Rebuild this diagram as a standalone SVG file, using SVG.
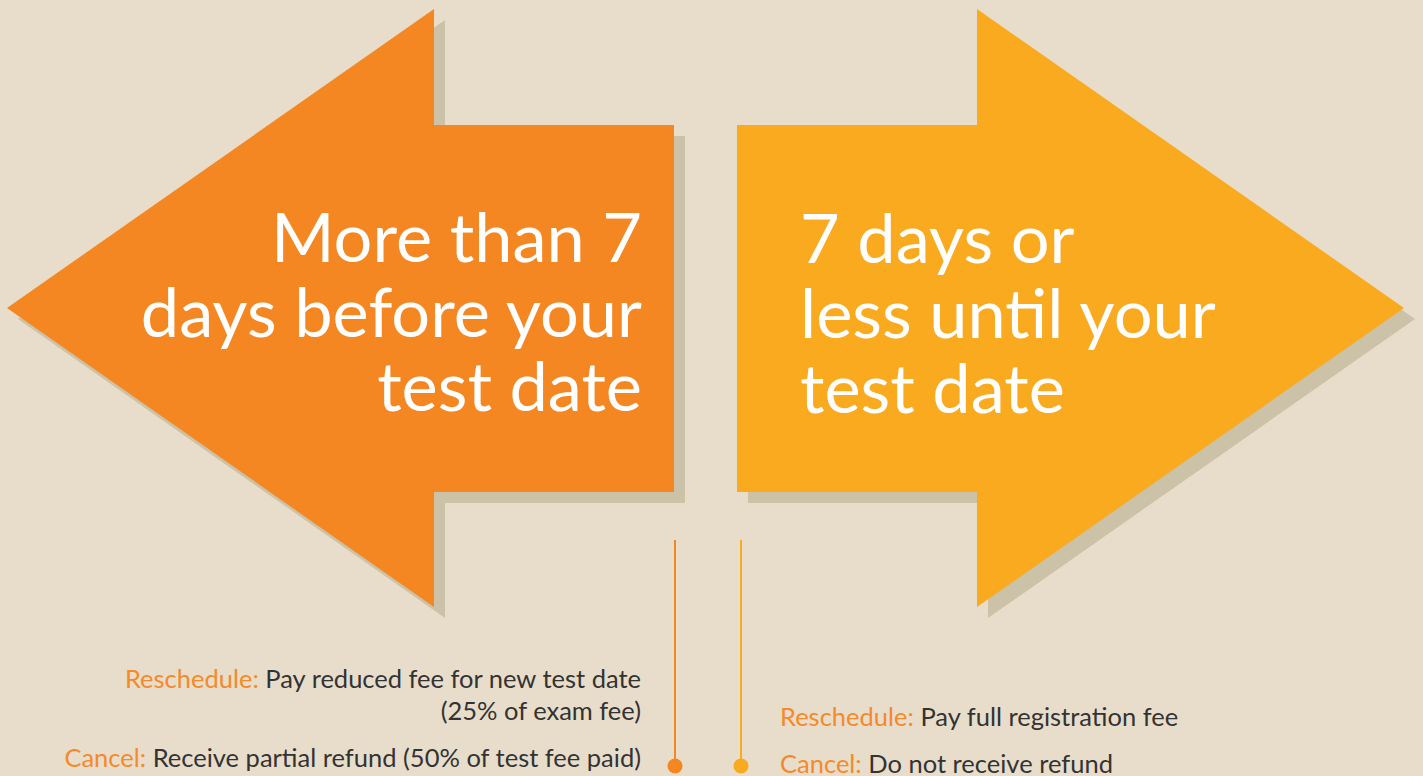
<svg xmlns="http://www.w3.org/2000/svg" width="1423" height="776" viewBox="0 0 1423 776">
<style>
.big{font-family:Lato,"Open Sans",sans-serif;font-size:68.5px;fill:#ffffff}
.small{font-family:Lato,"Open Sans",sans-serif;font-size:25.5px;fill:#333333}
.lab{fill:#F58A2A}
.shadow{fill:#CBC2A8}
</style>
<rect width="1423" height="776" fill="#E8DDCA"/>
<g id="arrow-left">
<polygon class="shadow" points="18,319 445,20 445,136 685,136 685,503 445,503 445,618"/>
<polygon fill="#F58723" points="7,308 434,9 434,125 674,125 674,492 434,492 434,607"/>
<text class="big" text-anchor="end" x="642" y="262">More than 7</text>
<text class="big" text-anchor="end" x="642" y="337">days before your</text>
<text class="big" text-anchor="end" x="642" y="411">test date</text>
</g>
<g id="arrow-right">
<polygon class="shadow" points="748,136 988,136 988,20 1415,319 988,618 988,503 748,503"/>
<polygon fill="#F9AA1F" points="737,125 977,125 977,9 1404,308 977,607 977,492 737,492"/>
<text class="big" x="800" y="263">7 days or</text>
<text class="big" x="800" y="338">less until your</text>
<text class="big" x="800" y="413">test date</text>
</g>
<g id="connectors">
<line x1="675" y1="540" x2="675" y2="766" stroke="#F58723" stroke-width="2"/>
<circle cx="675" cy="766" r="7.5" fill="#F58723"/>
<line x1="741" y1="540" x2="741" y2="766" stroke="#F9AA1F" stroke-width="2"/>
<circle cx="741" cy="766" r="7.5" fill="#F9AA1F"/>
</g>
<g id="left-notes">
<text class="small" text-anchor="end" x="641" y="688"><tspan class="lab">Reschedule:</tspan> Pay reduced fee for new test date</text>
<text class="small" text-anchor="end" x="641" y="720">(25% of exam fee)</text>
<text class="small" text-anchor="end" x="641" y="767"><tspan class="lab">Cancel:</tspan> Receive partial refund (50% of test fee paid)</text>
</g>
<g id="right-notes">
<text class="small" x="780" y="726"><tspan class="lab">Reschedule:</tspan> Pay full registration fee</text>
<text class="small" x="780" y="773"><tspan class="lab">Cancel:</tspan> Do not receive refund</text>
</g>
</svg>
